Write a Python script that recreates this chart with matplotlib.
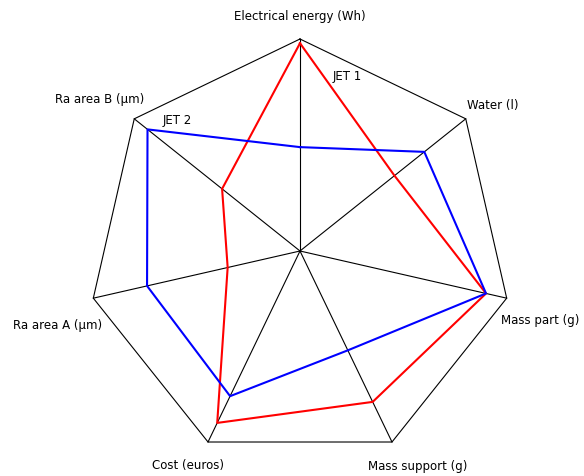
import matplotlib

matplotlib.use("Agg")
import matplotlib.pyplot as plt
import numpy as np

axes_labels = [
    "Electrical energy (Wh)",
    "Water (l)",
    "Mass part (g)",
    "Mass support (g)",
    "Cost (euros)",
    "Ra area A (µm)",
    "Ra area B (µm)",
]
jet1 = [0.98, 0.57, 0.90, 0.79, 0.90, 0.35, 0.47]
jet2 = [0.49, 0.75, 0.90, 0.52, 0.76, 0.74, 0.92]

# label anchor positions (data units, radius 1 = outer heptagon)
label_pos = [
    (0.0, 1.113),
    (0.91, 0.693),
    (1.135, -0.321),
    (0.557, -1.014),
    (-0.528, -1.005),
    (-1.142, -0.349),
    (-0.943, 0.717),
]

n = len(axes_labels)
ang = np.arange(n) * 2 * np.pi / n
ux = np.sin(ang)
uy = np.cos(ang)

fig = plt.figure(figsize=(5.84, 4.77), dpi=100)
ax = fig.add_axes([0, 0, 1, 1])
ax.set_xlim(-300 / 212, 284 / 212)
ax.set_ylim(-225 / 212, 252 / 212)
ax.axis("off")

# outer frame and spokes
ax.plot(np.append(ux, ux[0]), np.append(uy, uy[0]), color="black", lw=0.8)
for x, y in zip(ux, uy):
    ax.plot([0, x], [0, y], color="black", lw=0.8)


def draw_series(vals, color):
    v = np.array(vals)
    xs = np.append(v * ux, v[0] * ux[0])
    ys = np.append(v * uy, v[0] * uy[0])
    ax.plot(xs, ys, color=color, lw=1.5)


draw_series(jet1, "red")
draw_series(jet2, "blue")

for lab, (x, y) in zip(axes_labels, label_pos):
    ax.text(x, y, lab, ha="center", va="center", fontsize=8.5)

ax.text(0.222, 0.83, "JET 1", ha="center", va="center", fontsize=8.5)
ax.text(-0.58, 0.618, "JET 2", ha="center", va="center", fontsize=8.5)

fig.savefig("out.png", dpi=100)
